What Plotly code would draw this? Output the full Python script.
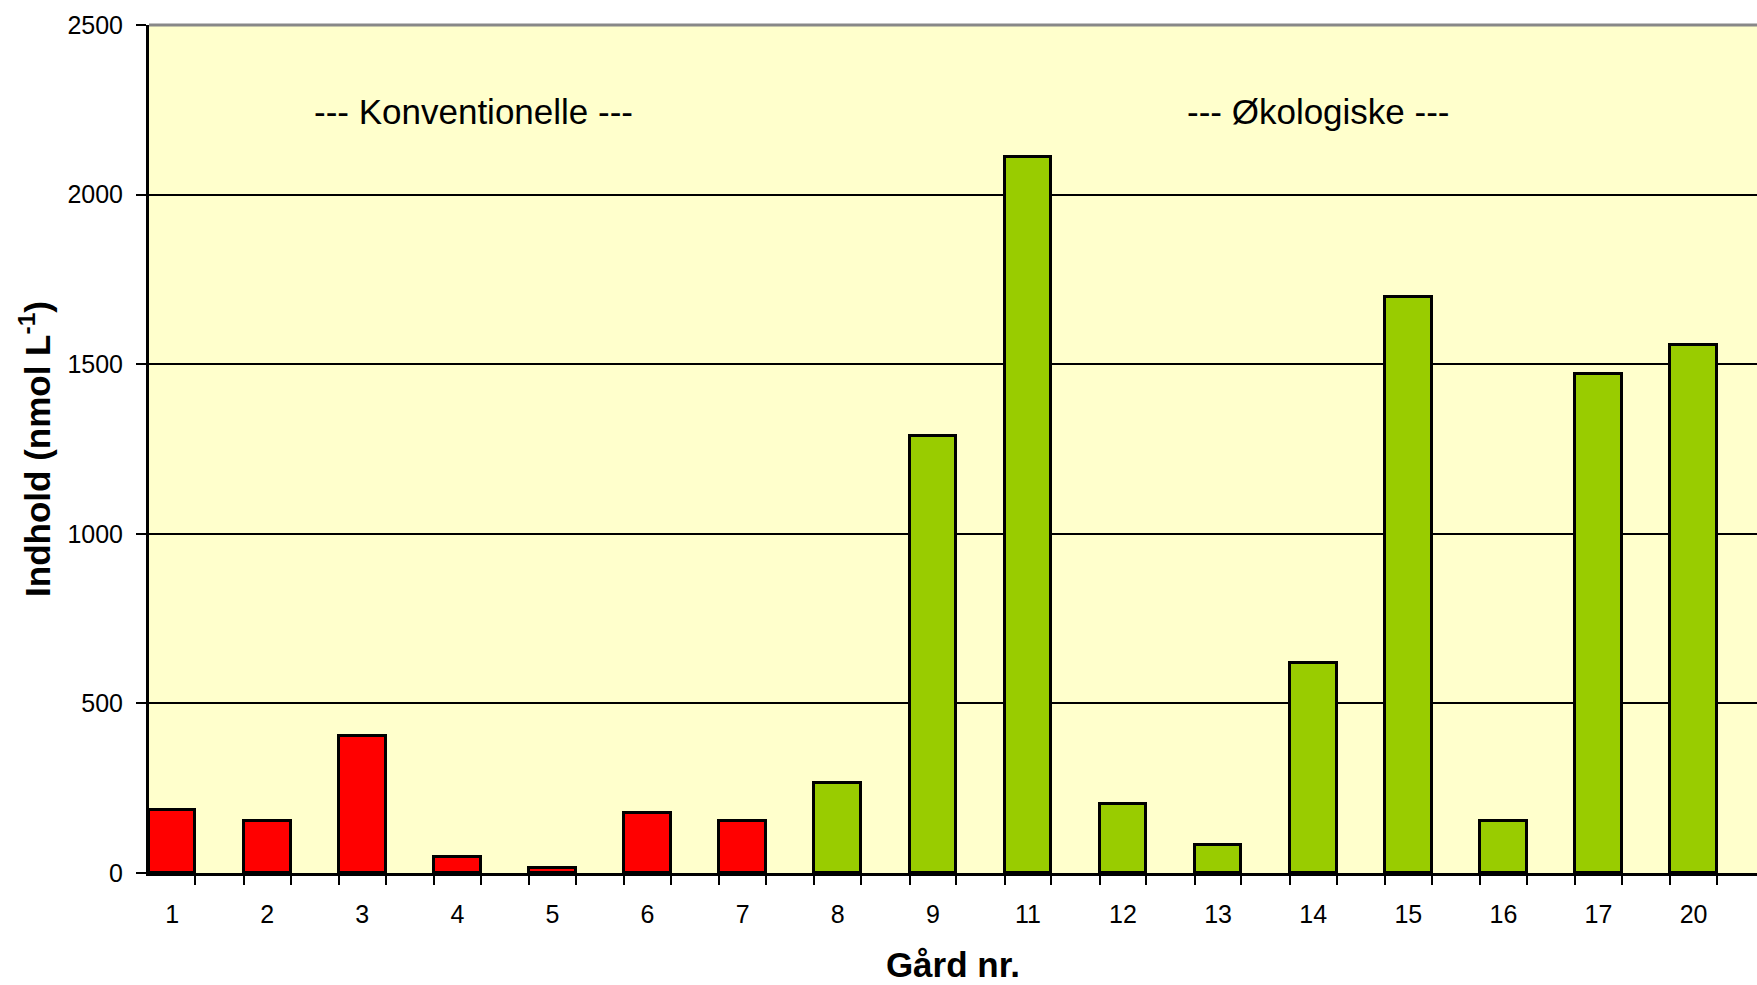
import plotly.graph_objects as go

farms = ["1", "2", "3", "4", "5", "6", "7", "8", "9", "11", "12", "13", "14", "15", "16", "17", "20"]
values = [185, 153, 404, 48, 15, 176, 153, 264, 1289, 2110, 203, 83, 618, 1697, 152, 1472, 1558]
groups = ["Konventionelle"] * 7 + ["Økologiske"] * 10
group_colors = {"Konventionelle": "#FF0000", "Økologiske": "#99CC00"}
y_ticks = [0, 500, 1000, 1500, 2000, 2500]

pos = list(range(len(farms)))
bar_w = 0.49
edge_ticks = []
for p in pos:
    edge_ticks += [p - bar_w / 2, p + bar_w / 2]

x_range = [-0.243, 16.667]

fig = go.Figure()
fig.add_trace(go.Bar(
    x=pos, y=values, width=bar_w,
    marker=dict(color=[group_colors[g] for g in groups], line=dict(color="black", width=3)),
    showlegend=False, hoverinfo="x+y",
))
# invisible trace to carry the edge-tick axis
fig.add_trace(go.Scatter(x=[pos[0]], y=[0], xaxis="x2", mode="markers",
                         marker=dict(opacity=0), showlegend=False, hoverinfo="skip"))

tickfont = dict(family="Liberation Sans, Arial, sans-serif", size=25, color="black")
titlefont = dict(family="Liberation Sans, Arial, sans-serif", size=35, color="black", weight="bold")
annfont = dict(family="Liberation Sans, Arial, sans-serif", size=35, color="black")

fig.update_layout(
    width=1757, height=985,
    margin=dict(l=149, r=0, t=25, b=112),
    paper_bgcolor="white", plot_bgcolor="#FFFFCC",
    bargap=0,
    xaxis=dict(
        range=x_range, tickvals=pos, ticktext=farms, ticks="",
        tickfont=tickfont, showgrid=False, zeroline=False,
        showline=True, linecolor="black", linewidth=3,
        ticklabelstandoff=17,
        title=dict(text="Gård nr.", font=titlefont, standoff=26),
    ),
    xaxis2=dict(
        range=x_range, overlaying="x", anchor="y", side="bottom",
        tickvals=edge_ticks, showticklabels=False, ticks="outside",
        ticklen=11, tickwidth=2, tickcolor="black", showgrid=False,
        zeroline=False, showline=False,
    ),
    yaxis=dict(
        range=[0, 2500], tickvals=y_ticks, ticks="outside", ticklen=10,
        tickwidth=2, tickcolor="black", tickfont=tickfont,
        showgrid=True, gridcolor="black", gridwidth=2, zeroline=False,
        showline=True, linecolor="black", linewidth=3,
        ticklabelstandoff=8,
        title=dict(text="Indhold (nmol L<sup>-1</sup>)", font=titlefont, standoff=7),
    ),
    shapes=[dict(type="line", xref="paper", yref="paper", x0=0, x1=1, y0=1, y1=1,
                 line=dict(color="#888888", width=3), layer="above")],
    annotations=[
        dict(text="--- Konventionelle ---", x=3.17, y=2245, xref="x", yref="y",
             showarrow=False, font=annfont),
        dict(text="--- Økologiske ---", x=12.06, y=2245, xref="x", yref="y",
             showarrow=False, font=annfont),
    ],
)

fig.write_html(
    "out.html",
    config={"displayModeBar": False},
    post_script="document.body.style.margin='0';document.body.style.overflow='hidden';",
)
